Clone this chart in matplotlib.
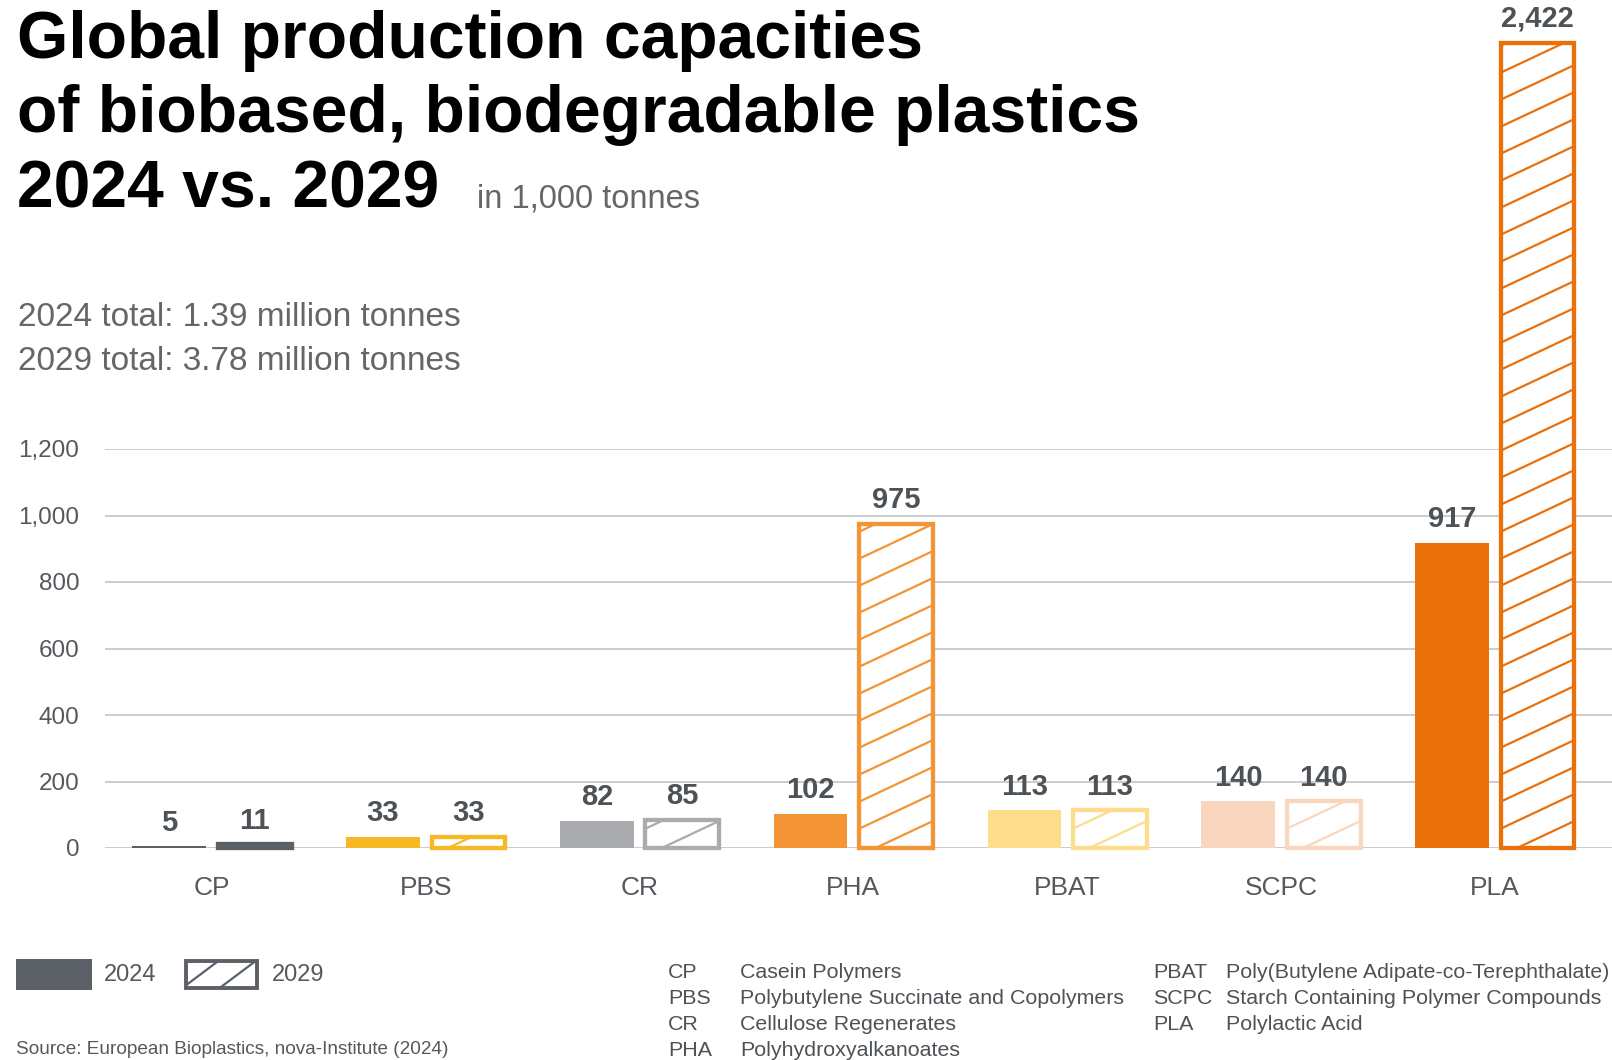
import numpy as np
import matplotlib
matplotlib.use("Agg")
import matplotlib.pyplot as plt
from matplotlib.patches import Rectangle
from matplotlib.lines import Line2D
from matplotlib.transforms import IdentityTransform

plt.rcParams['font.family'] = ['Liberation Sans', 'DejaVu Sans']

# data (1,000 tonnes)
categories = ['CP', 'PBS', 'CR', 'PHA', 'PBAT', 'SCPC', 'PLA']
values_2024 = [5, 33, 82, 102, 113, 140, 917]
values_2029 = [11, 33, 85, 975, 113, 140, 2422]
bar_colors = ['#5b6167', '#f7b825', '#a9abae', '#f39436', '#fddc8c', '#f9d6bd', '#ea700b']
yticks = [0, 200, 400, 600, 800, 1000, 1200]

abbr_left = ['CP', 'PBS', 'CR', 'PHA']
names_left = ['Casein Polymers', 'Polybutylene Succinate and Copolymers',
              'Cellulose Regenerates', 'Polyhydroxyalkanoates']
abbr_right = ['PBAT', 'SCPC', 'PLA']
names_right = ['Poly(Butylene Adipate-co-Terephthalate)',
               'Starch Containing Polymer Compounds', 'Polylactic Acid']

total_2024 = 1.39
total_2029 = 3.78

W, H = 1612, 1060
TXT = '#55595e'
GRID = '#c4c4c4'

fig = plt.figure(figsize=(W / 100, H / 100), dpi=100)


def fx(px):
    return px / W


def fy(py):
    return 1 - py / H


ax = fig.add_axes([fx(105), fy(848), fx(1612 - 105), (848 - 449) / H])
ax.set_xlim(-0.5, 6.548)
ax.set_ylim(0, 1200)
for s in ax.spines.values():
    s.set_visible(False)
ax.set_yticks(yticks)
ax.set_yticklabels([f'{v:,}' for v in yticks], fontsize=17.5, color=TXT)
ax.tick_params(axis='y', length=0, pad=18.5)
ax.grid(axis='y', color=GRID, linewidth=1.2)
ax.set_axisbelow(True)
ax.set_xticks(range(len(categories)))
ax.set_xticklabels(categories, fontsize=19, color=TXT)
ax.tick_params(axis='x', length=0, pad=20)

x = np.arange(len(categories))
bw = 0.345
off = 0.2
bars24 = ax.bar(x - off, values_2024, bw, color=bar_colors, linewidth=0, zorder=3)
bars29 = ax.bar(x + off, values_2029, bw, color='white', edgecolor=bar_colors,
                linewidth=3.1, zorder=3, clip_on=False)


def hatch_rect(rect_patch, color, spacing=27, slope=0.47, lw=1.6, z=4):
    # diagonal lines in pixel space, clipped to the patch
    bb = rect_patch.get_window_extent()
    x0, x1, y0, y1 = bb.x0, bb.x1, bb.y0, bb.y1
    rise = slope * (x1 - x0)
    k = y0 - rise
    while k < y1:
        ln = Line2D([x0, x1], [k, k + rise], color=color, linewidth=lw,
                    transform=IdentityTransform(), zorder=z)
        fig.add_artist(ln)
        ln.set_clip_path(rect_patch)
        k += spacing


for b, c in zip(bars29, bar_colors):
    hatch_rect(b, c)

for b, v in zip(list(bars24) + list(bars29), values_2024 + values_2029):
    ax.annotate(f'{v:,}', (b.get_x() + b.get_width() / 2, v), xytext=(0, 7),
                textcoords='offset points', ha='center', va='bottom',
                fontsize=21, fontweight='bold', color='#4d5257',
                annotation_clip=False)

# titles
title_lines = ['Global production capacities', 'of biobased, biodegradable plastics', '2024 vs. 2029']
for i, t in enumerate(title_lines):
    fig.text(fx(17), fy(58 + i * 74.5), t, fontsize=47.5, fontweight='bold',
             color='black', va='baseline')
fig.text(fx(477), fy(207), 'in 1,000 tonnes', fontsize=23.5, color='#666666', va='baseline')
fig.text(fx(18), fy(318), f'2024 total: {total_2024} million tonnes', fontsize=24,
         color='#666666', va='center')
fig.text(fx(18), fy(361), f'2029 total: {total_2029} million tonnes', fontsize=24,
         color='#666666', va='center')

# legend
leg_dark = '#5b6167'
fig.add_artist(Rectangle((fx(16), fy(990)), fx(76), 31 / H, transform=fig.transFigure,
                         facecolor=leg_dark, edgecolor='none'))
fig.text(fx(104), fy(975), '2024', fontsize=17, color=TXT, va='center')
r29 = Rectangle((fx(186), fy(988)), fx(71), 27 / H, transform=fig.transFigure,
                facecolor='white', edgecolor=leg_dark, linewidth=2.8)
fig.add_artist(r29)
hatch_rect(r29, leg_dark, spacing=28, slope=0.75, lw=1.6)
fig.text(fx(272), fy(975), '2029', fontsize=17, color=TXT, va='center')

fig.text(fx(16), fy(1050), 'Source: European Bioplastics, nova-Institute (2024)',
         fontsize=13.7, color=TXT, va='center')

# abbreviation table
tab_col = '#4d5257'
for i, (a, n) in enumerate(zip(abbr_left, names_left)):
    yy = fy(973 + i * 25.7)
    fig.text(fx(668), yy, a, fontsize=15.4, color=tab_col, va='center')
    fig.text(fx(740), yy, n, fontsize=15.4, color=tab_col, va='center')
for i, (a, n) in enumerate(zip(abbr_right, names_right)):
    yy = fy(973 + i * 25.7)
    fig.text(fx(1153), yy, a, fontsize=15.4, color=tab_col, va='center')
    fig.text(fx(1226), yy, n, fontsize=15.4, color=tab_col, va='center')

fig.savefig('out.png', dpi=100)
